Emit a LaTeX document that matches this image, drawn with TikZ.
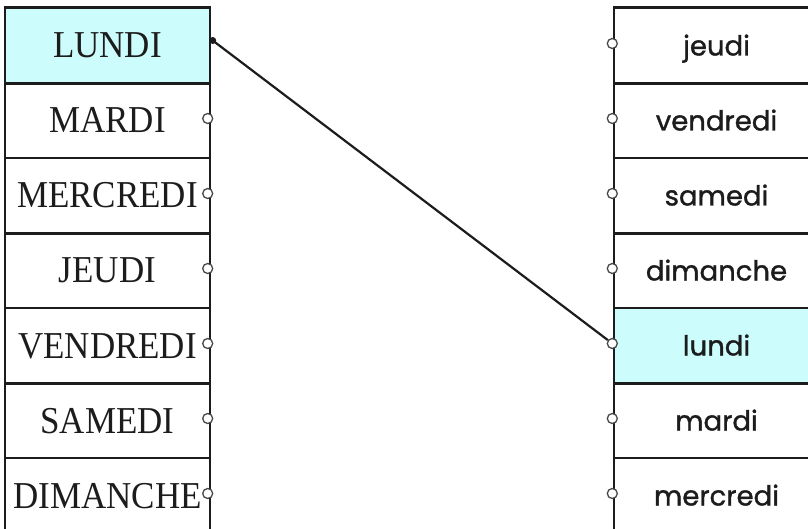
\documentclass[tikz,border=0pt]{standalone}
\usepackage{fontspec}
\newfontfamily\capsfont[FakeStretch=0.92]{Liberation Serif}
\newfontfamily\comicfont[FakeBold=1.2]{Poppins}
\definecolor{hl}{RGB}{204,252,252}
\definecolor{ink}{RGB}{28,28,28}
\begin{document}
\begin{tikzpicture}[x=1pt,y=-1pt,
 lbox/.style={draw=ink, line width=1.4pt, minimum width=205pt, minimum height=75pt, inner sep=0pt,
   font=\capsfont\fontsize{38}{40}\selectfont, text=ink, text height=25pt, text depth=0pt},
 rbox/.style={draw=ink, line width=1.4pt, minimum width=205pt, minimum height=75pt, inner sep=0pt,
   font=\comicfont\fontsize{27.5}{30}\selectfont, text=ink, text height=20pt, text depth=0pt},
 port/.style={circle, draw=ink!80, fill=white, line width=1.3pt, minimum size=10pt, inner sep=0pt},
 filldot/.style={circle, fill=ink, minimum size=7pt, inner sep=0pt},
 thicksep/.style={line width=3pt, draw=ink},
 link/.style={line width=2.2pt, draw=ink}]
\useasboundingbox (0,0) rectangle (808,529);
\fill[white] (0,0) rectangle (808,529);
\begin{scope}
\clip (0,0) rectangle (808,529);
% left column
\node[lbox, fill=hl] (L1) at (107.5,45.5) {LUNDI};
\node[lbox] (L2) at (107.5,120.5) {MARDI};
\node[lbox] (L3) at (107.5,195.5) {MERCREDI};
\node[lbox] (L4) at (107.5,270.5) {JEUDI};
\node[lbox] (L5) at (107.5,345.5) {VENDREDI};
\node[lbox] (L6) at (107.5,420.5) {SAMEDI};
\node[lbox] (L7) at (107.5,495.5) {DIMANCHE};
% right column
\node[rbox] (R1) at (716.5,45.5) {jeudi};
\node[rbox] (R2) at (716.5,120.5) {vendredi};
\node[rbox] (R3) at (716.5,195.5) {samedi};
\node[rbox] (R4) at (716.5,270.5) {dimanche};
\node[rbox, fill=hl] (R5) at (716.5,345.5) {lundi};
\node[rbox] (R6) at (716.5,420.5) {mardi};
\node[rbox] (R7) at (716.5,495.5) {mercredi};
% thick separators
\foreach \n in {1,3,5}{
  \draw[thicksep] (L\n.south west) -- (L\n.south east);
  \draw[thicksep] (R\n.south west) -- (R\n.south east);
}
\draw[line width=2pt, draw=ink] (L1.north west) -- (L1.north east);
\draw[line width=2pt, draw=ink] (R1.north west) -- (R1.north east);
% ports
\foreach \n in {2,...,7}{
  \node[port] (pL\n) at ([xshift=-3pt,yshift=2pt]L\n.east) {};
}
\foreach \n in {1,...,7}{
  \node[port] (pR\n) at ([xshift=-1pt,yshift=2pt]R\n.west) {};
}
\node[filldot] (pL1) at ([xshift=2pt,yshift=5pt]L1.east) {};
% connector
\draw[link] (pL1.center) -- (pR5);
\end{scope}
\end{tikzpicture}
\end{document}
